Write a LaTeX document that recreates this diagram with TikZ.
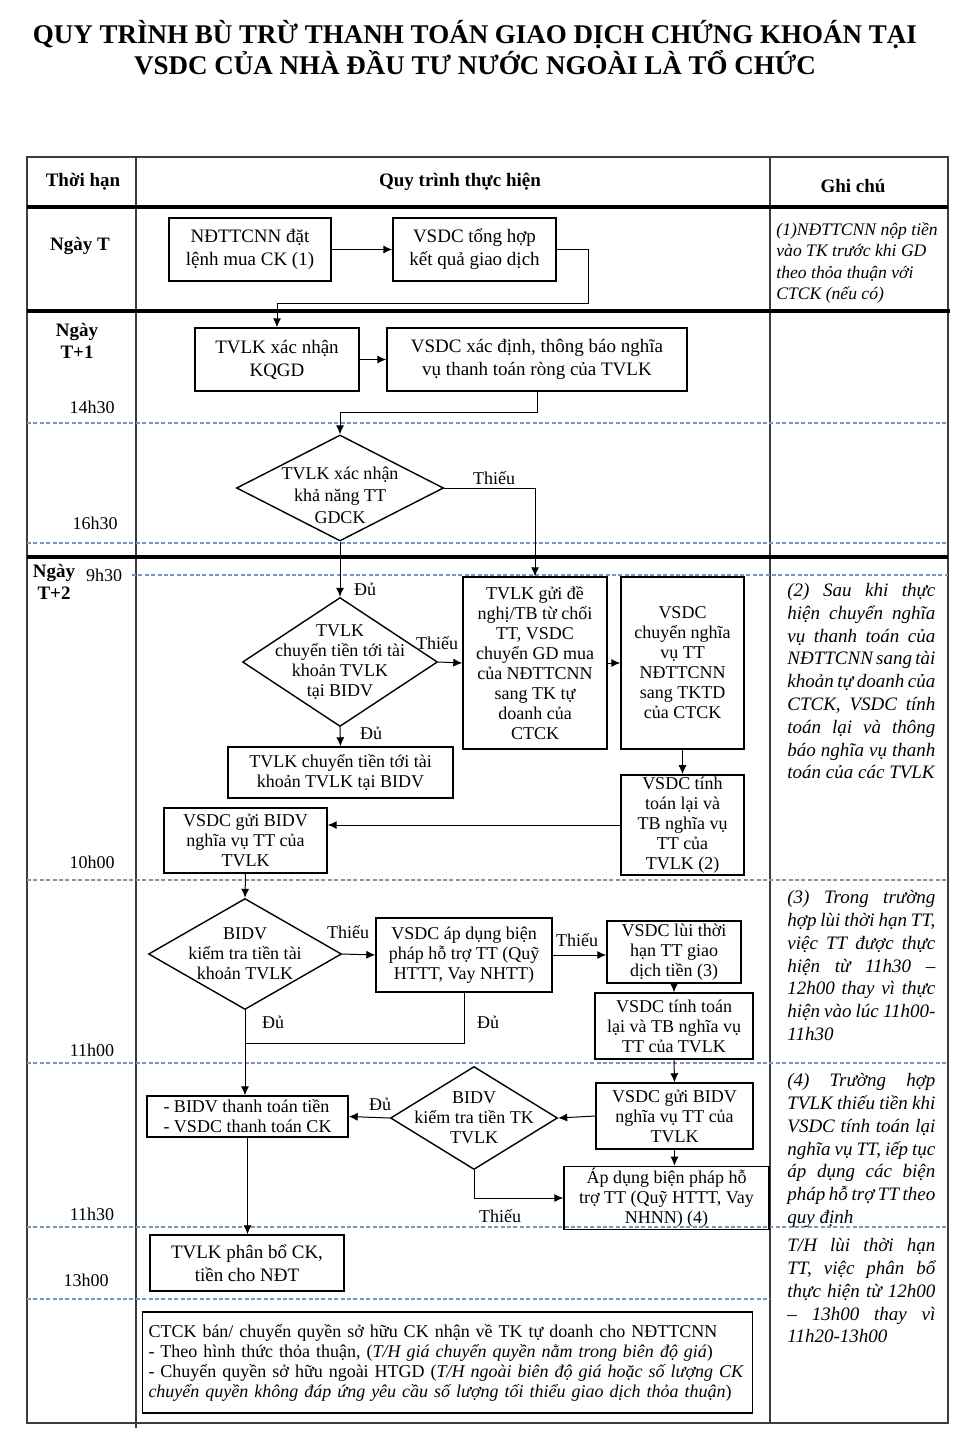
\documentclass[tikz,border=0pt]{standalone}
\usepackage{fontspec}
\setmainfont{Liberation Serif}
\usetikzlibrary{shapes.geometric,arrows.meta}
\definecolor{rulegray}{RGB}{60,60,60}
\definecolor{dashblue}{RGB}{120,150,185}
\newcommand{\jline}[1]{\makebox[74pt][s]{#1}}

\begin{document}
\begin{tikzpicture}[%
      x=0.5pt, y=-0.5pt,
      box/.style={draw, line width=0.7pt, align=center, inner sep=1pt,
        font=\fontsize{9}{10}\selectfont},
      bigbox/.style={box, font=\fontsize{9.5}{11.5}\selectfont},
      dec/.style={draw, diamond, line width=0.7pt, inner sep=0pt},
      arr/.style={-{Latex[length=4.5pt,width=4pt]}, line width=0.5pt},
      lbl/.style={font=\fontsize{9}{10}\selectfont, inner sep=0pt},
      head/.style={font=\bfseries\fontsize{9.5}{11}\selectfont, inner sep=0pt, align=center},
      note/.style={anchor=north west, align=left, inner sep=0pt,
        font=\itshape\fontsize{9.5}{11.4}\selectfont},
      sep/.style={color=dashblue, line width=0.6pt, dash pattern=on 2pt off 1.2pt},
      ]
      \useasboundingbox (0,0) rectangle (960,1438);
      \fill[white] (0,0) rectangle (960,1438);

      % title
      \node[font=\bfseries\fontsize{13.5}{14.5}\selectfont, align=center] (title) at (475,47.5)
        {QUY TRÌNH BÙ TRỪ THANH TOÁN GIAO DỊCH CHỨNG KHOÁN TẠI\\VSDC CỦA NHÀ ĐẦU TƯ NƯỚC NGOÀI LÀ TỔ CHỨC};

      % table
      \draw[rulegray, line width=0.6pt] (27,157) rectangle (948,1423);
      \draw[rulegray, line width=0.6pt] (136,157) -- (136,1428);
      \draw[rulegray, line width=0.6pt] (770,157) -- (770,1423);
      \draw[line width=2pt] (27,207) -- (948,207);
      \draw[line width=2pt] (27,311) -- (950,311);
      \draw[line width=2pt] (27,557) -- (948,557);
      \foreach \y in {423,543,880,1063,1227}
        \draw[sep] (27,\y) -- (948,\y);
      \draw[sep] (132,575) -- (948,575);
      \draw[sep] (27,1299) -- (770,1299);

      \node[head] (h1) at (83,182) {Thời hạn};
      \node[head] (h2) at (460,182) {Quy trình thực hiện};
      \node[head] (h3) at (853,186) {Ghi chú};
      \node[head] (dayT) at (80,246) {Ngày T};
      \node[head] (dayT1) at (77,341) {Ngày\\T+1};
      \node[head] (dayT2) at (54,582) {Ngày\\T+2};

      \node[lbl] (t1430) at (92,407) {14h30};
      \node[lbl] (t1630) at (95,523) {16h30};
      \node[lbl] (t0930) at (104,575) {9h30};
      \node[lbl] (t1000) at (92,862) {10h00};
      \node[lbl] (t1100) at (92,1050) {11h00};
      \node[lbl] (t1130) at (92,1214) {11h30};
      \node[lbl] (t1300) at (86,1280) {13h00};

      % steps
      \node[bigbox, minimum width=81pt, minimum height=31.5pt] (A) at (250,249.5) {NĐTTCNN đặt\\lệnh mua CK (1)};
      \node[bigbox, minimum width=81.5pt, minimum height=31.5pt] (B) at (474.5,249.5) {VSDC tổng hợp\\kết quả giao dịch};
      \node[bigbox, minimum width=82pt, minimum height=31.5pt] (C) at (277,359.5) {TVLK xác nhận\\KQGD};
      \node[bigbox, minimum width=150pt, minimum height=31.5pt] (D) at (537,359.5) {VSDC xác định, thông báo nghĩa\\vụ thanh toán ròng của TVLK};
      \node[dec, minimum width=103.5pt, minimum height=53pt,
        label={[box, draw=none, inner sep=0pt, yshift=-3.5pt, font=\fontsize{9}{11}\selectfont]center:{TVLK  xác nhận\\khả năng TT\\GDCK}}] (D1) at (340,488) {};
      \node[dec, minimum width=97.5pt, minimum height=64.5pt,
        label={[box, draw=none, inner sep=0pt]center:{TVLK\\chuyển tiền tới tài\\khoản TVLK\\tại BIDV}}] (D2) at (340,662) {};
      \node[box, minimum width=72pt, minimum height=86pt] (E) at (535,663)
        {TVLK  gửi đề\\nghị/TB từ chối\\TT, VSDC\\chuyển GD  mua\\của NĐTTCNN\\sang TK tự\\doanh của\\CTCK};
      \node[box, minimum width=61.5pt, minimum height=86pt] (F) at (682.5,663)
        {VSDC\\chuyển nghĩa\\vụ TT\\NĐTTCNN\\sang TKTD\\của CTCK};
      \node[box, minimum width=112.5pt, minimum height=25.5pt] (G) at (340.5,772.5) {TVLK  chuyển tiền tới tài\\khoản TVLK  tại BIDV};
      \node[box, minimum width=61.5pt, minimum height=48pt] (H) at (682.5,825) {VSDC  tính\\toán lại và\\TB nghĩa vụ\\TT của\\TVLK  (2)};
      \node[box, minimum width=81.5pt, minimum height=32.5pt] (I) at (245.5,840.5) {VSDC  gửi BIDV\\nghĩa vụ TT của\\TVLK};
      \node[dec, minimum width=96.5pt, minimum height=55.5pt,
        label={[box, draw=none, inner sep=0pt]center:{BIDV\\kiểm  tra tiền tài\\khoản TVLK}}] (D3) at (245,954) {};
      \node[box, minimum width=88pt, minimum height=37pt] (J) at (464,955) {VSDC  áp dụng biện\\pháp hỗ trợ TT (Quỹ\\HTTT, Vay NHTT)};
      \node[box, minimum width=67pt, minimum height=31pt] (K) at (674,952) {VSDC  lùi thời\\hạn TT giao\\dịch tiền (3)};
      \node[box, minimum width=79pt, minimum height=33pt] (L) at (674,1026) {VSDC  tính toán\\lại và TB nghĩa vụ\\TT của TVLK};
      \node[box, minimum width=78.5pt, minimum height=33pt] (N) at (674.5,1116) {VSDC  gửi BIDV\\nghĩa vụ TT của\\TVLK};
      \node[dec, minimum width=83.5pt, minimum height=51.5pt,
        label={[box, draw=none, inner sep=0pt]center:{BIDV\\kiểm  tra tiền TK\\TVLK}}] (D4) at (474,1118) {};
      \node[box, align=left, minimum width=100.5pt, minimum height=20.5pt] (M) at (247.5,1116.5) {- BIDV  thanh toán tiền\\- VSDC  thanh toán CK};
      \node[box, minimum width=102.5pt, minimum height=30pt] (O) at (666.5,1198) {Áp dụng biện pháp hỗ\\trợ TT (Quỹ HTTT, Vay\\NHNN) (4)};
      \node[bigbox, minimum width=97pt, minimum height=28pt] (P) at (247,1263) {TVLK phân bổ CK,\\tiền cho NĐT};
      \node[box, align=left, text width=299pt, inner xsep=3pt, minimum height=50.5pt] (Q) at (447.5,1362.5)
        {CTCK  bán/ chuyển quyền sở hữu CK  nhận về TK  tự doanh cho NĐTTCNN\\
         - Theo hình thức thỏa thuận, (\textit{T/H  giá chuyển quyền nằm trong biên độ giá})\\
         - Chuyển quyền sở hữu ngoài HTGD  (\textit{T/H ngoài biên độ giá hoặc số lượng CK}\\
         \textit{chuyển quyền không đáp ứng yêu cầu số lượng tối thiểu giao dịch thỏa thuận})};

      % connectors
      \draw[arr] (A.east) -- (B.west);
      \draw[arr] (B.east) -| (588,304) -| (C.north);
      \draw[arr] (C.east) -- (D.west);
      \draw[arr] (D.south) |- (D1.north |- 0,413) -- (D1.north);
      \draw[arr] (D1.east) -| (E.north);
      \draw[arr] (D1.south) -- (D2.north);
      \draw[arr] (D2.east) -- (E.west);
      \draw[arr] (E.east) -- (F.west);
      \draw[arr] (D2.south) -- (G.north);
      \draw[arr] (F.south) -- (H.north);
      \draw[arr] (H.west) -- (H.west -| I.east);
      \draw[arr] (I.south) -- (D3.north);
      \draw[arr] (D3.east) -- (J.west);
      \draw[arr] (J.east) -- (J.east -| K.west);
      \draw[arr] (K.south) -- (L.north);
      \draw[arr] (D3.south) -- (D3.south |- M.north);
      \draw (J.south) |- (D3.south |- 0,1043);
      \draw[arr] (L.south) -- (N.north);
      \draw[arr] (N.west) -- (D4.east);
      \draw[arr] (D4.west) -- (M.east);
      \draw[arr] (N.south) -- (N.south |- O.north);
      \draw[arr] (D4.south) |- (O.west);
      \draw[arr] (M.south) -- (M.south |- P.north);

      \node[lbl] (l1) at (494,478) {Thiếu};
      \node[lbl] (l2) at (365,589) {Đủ};
      \node[lbl] (l3) at (437,643) {Thiếu};
      \node[lbl] (l4) at (371,733) {Đủ};
      \node[lbl] (l5) at (348,932) {Thiếu};
      \node[lbl] (l6) at (577,940) {Thiếu};
      \node[lbl] (l7) at (273,1022) {Đủ};
      \node[lbl] (l8) at (488,1022) {Đủ};
      \node[lbl] (l9) at (380,1104) {Đủ};
      \node[lbl] (l10) at (500,1216) {Thiếu};

      % notes
      \node[note, font=\itshape\fontsize{8.8}{10.8}\selectfont] (n1) at (776,222)
        {(1)NĐTTCNN nộp tiền\\vào TK trước  khi GD\\theo thỏa thuận với\\CTCK (nếu có)};
      \node[note] (n2) at (787,583) {\jline{(2) Sau khi thực}\\\jline{hiện chuyển nghĩa}\\\jline{vụ thanh toán của}\\
        \jline{NĐTTCNN sang tài}\\\jline{khoản tự doanh của}\\\jline{CTCK, VSDC tính}\\\jline{toán lại và thông}\\
        \jline{báo nghĩa vụ thanh}\\toán của các TVLK};
      \node[note] (n3) at (787,890) {\jline{(3) Trong trường}\\\jline{hợp lùi thời hạn TT,}\\\jline{việc TT được thực}\\
        \jline{hiện từ 11h30 –}\\\jline{12h00 thay vì thực}\\\jline{hiện vào lúc 11h00-}\\11h30};
      \node[note] (n4) at (787,1073) {\jline{(4) Trường hợp}\\\jline{TVLK thiếu tiền khi}\\\jline{VSDC tính toán lại}\\
        \jline{nghĩa vụ TT, iếp tục}\\\jline{áp dụng các biện}\\\jline{pháp hỗ trợ TT theo}\\quy định};
      \node[note] (n5) at (787,1238) {\jline{T/H lùi thời hạn}\\\jline{TT, việc phân bổ}\\\jline{thực hiện từ 12h00}\\
        \jline{– 13h00 thay vì}\\11h20-13h00};
\end{tikzpicture}
\end{document}
